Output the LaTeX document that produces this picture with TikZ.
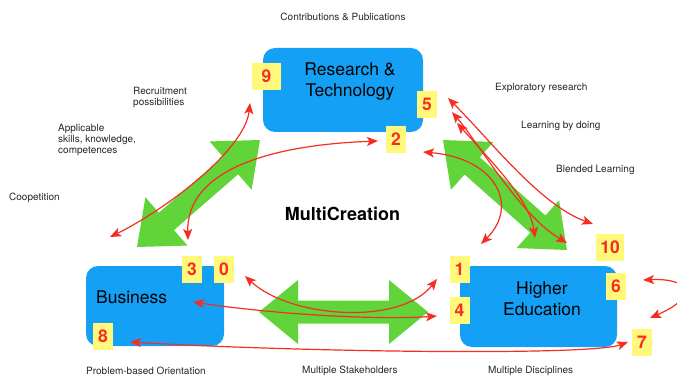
\documentclass[tikz,border=0pt]{standalone}
\usepackage{fontspec}
\setmainfont{TeX Gyre Heros}
\usetikzlibrary{calc,arrows.meta}

\definecolor{boxblue}{RGB}{20,160,245}
\definecolor{arrowgreen}{RGB}{96,212,56}
\definecolor{linkred}{RGB}{245,45,35}
\definecolor{tagyellow}{RGB}{255,248,122}

% broad green double arrow between two named tip points
\newcommand\greendouble[2]{%
  \fill[arrowgreen] (#1)
    -- ($(#1)!39pt!(#2)!32pt!90:(#2)$)
    -- ($(#1)!39pt!(#2)!11.5pt!90:(#2)$)
    -- ($(#2)!39pt!(#1)!11.5pt!-90:(#1)$)
    -- ($(#2)!39pt!(#1)!32pt!-90:(#1)$)
    -- (#2)
    -- ($(#2)!39pt!(#1)!32pt!90:(#1)$)
    -- ($(#2)!39pt!(#1)!11.5pt!90:(#1)$)
    -- ($(#1)!39pt!(#2)!11.5pt!-90:(#2)$)
    -- ($(#1)!39pt!(#2)!32pt!-90:(#2)$)
    -- cycle;}

\tikzset{
  blockbox/.style={fill=boxblue, rounded corners=12pt, inner sep=0pt},
  blocktext/.style={font=\fontsize{17.5}{21}\selectfont, align=center, inner sep=0pt, text=black},
  numtag/.style={fill=tagyellow, text=linkred, font=\fontsize{17.5}{20}\selectfont\bfseries,
    minimum width=20pt, minimum height=27pt, inner sep=0pt},
  note/.style={font=\fontsize{10}{11}\selectfont, inner sep=0pt, align=left, text=black!85},
  link/.style={draw=linkred, line width=1.2pt,
    {Stealth[length=11pt,width=9pt,inset=2.5pt]}-{Stealth[length=11pt,width=9pt,inset=2.5pt]}},
}

\begin{document}
\begin{tikzpicture}[x=1pt,y=-1pt]
\useasboundingbox (0,0) rectangle (677,377);
\clip (0,0) rectangle (677,377);

% green double arrows between the three partners
\coordinate (gLa) at (137,247);
\coordinate (gLb) at (260,140);
\coordinate (gRa) at (443,140);
\coordinate (gRb) at (567,250);
\coordinate (gHa) at (259,312);
\coordinate (gHb) at (428,312);
\greendouble{gLa}{gLb}
\greendouble{gRa}{gRb}
\greendouble{gHa}{gHb}

% partner blocks
\node[blockbox, minimum width=160pt, minimum height=84pt] (rt) at (343,90) {};
\node[blockbox, minimum width=138pt, minimum height=80pt] (bus) at (155,306) {};
\node[blockbox, minimum width=157pt, minimum height=81pt] (he) at (538.5,306.5) {};

\node[blocktext] (rtlabel) at (350,82) {Research \&\\Technology};
\node[blocktext, anchor=base west] (buslabel) at (96,303) {Business};
\node[blocktext] (helabel) at (542,298.5) {Higher\\Education};

\node[font=\fontsize{18}{20}\selectfont\bfseries, inner sep=0pt] (mc) at (342.5,214) {MultiCreation};

% annotations
\node[note, anchor=center] (contrib) at (343,17) {Contributions \& Publications};
\node[note, anchor=west] (recruit) at (133,97.5) {Recruitment\\possibilities};
\node[note, anchor=west] (skills) at (58,140) {Applicable\\skills, knowledge,\\competences};
\node[note, anchor=west] (coop) at (9,198) {Coopetition};
\node[note, anchor=west] (explore) at (495,88) {Exploratory research};
\node[note, anchor=west] (doing) at (521,126) {Learning by doing};
\node[note, anchor=west] (blended) at (556,170) {Blended Learning};
\node[note, anchor=west] (problem) at (86,371) {Problem-based Orientation};
\node[note, anchor=west] (stake) at (302,371) {Multiple Stakeholders};
\node[note, anchor=west] (disc) at (488,371) {Multiple Disciplines};

% red link end points
\coordinate (e9) at (250,103);
\coordinate (eCoop) at (110,237);
\coordinate (e3) at (188,240);
\coordinate (e2l) at (378,141);
\coordinate (e2r) at (423,152);
\coordinate (e1t) at (481,244);
\coordinate (e5a) at (448,98);
\coordinate (e5b) at (452,112);
\coordinate (e5c) at (457,123);
\coordinate (e10a) at (593,224);
\coordinate (e10b) at (567,243);
\coordinate (e10c) at (535,238);
\coordinate (e0) at (245,276);
\coordinate (e1) at (437,279);
\coordinate (eBus) at (193,302);
\coordinate (e4) at (437,316);
\coordinate (e8) at (130,342);
\coordinate (e7) at (628,342);
\coordinate (e6) at (643,280);
\coordinate (e6b) at (650,318);

% red links
\draw[link] (eCoop) .. controls (165,210) and (245,150) .. (e9);
\draw[link] (e3) .. controls (186,170) and (270,145) .. (e2l);
\draw[link] (e2r) .. controls (495,158) and (520,205) .. (e1t);
\draw[link] (e5a) .. controls (490,140) and (540,205) .. (e10a);
\draw[link] (e5b) .. controls (480,145) and (520,215) .. (e10b);
\draw[link] (e5c) .. controls (490,160) and (530,200) .. (e10c);
\draw[link] (e0) .. controls (290,318) and (400,326) .. (e1);
\draw[link] (eBus) .. controls (280,315) and (380,320) .. (e4);
\draw[link] (e8) .. controls (300,352) and (590,356) .. (e7);
\draw[link] (e6) .. controls (690,278) and (700,296) .. (e6b);

% numbered tags
\node[numtag, minimum width=29pt] (t9) at (266.5,76.5) {9};
\node[numtag] (t5) at (427,104.5) {5};
\node[numtag] (t2) at (396,139.5) {2};
\node[numtag] (t3) at (192,269) {3};
\node[numtag] (t0) at (224,269) {0};
\node[numtag] (t1) at (459.5,269.5) {1};
\node[numtag] (t4) at (459.5,310) {4};
\node[numtag] (t6) at (616,286.5) {6};
\node[numtag, minimum width=28pt] (t10) at (610,247) {10};
\node[numtag] (t7) at (642,342.5) {7};
\node[numtag] (t8) at (103,336) {8};
\end{tikzpicture}
\end{document}
